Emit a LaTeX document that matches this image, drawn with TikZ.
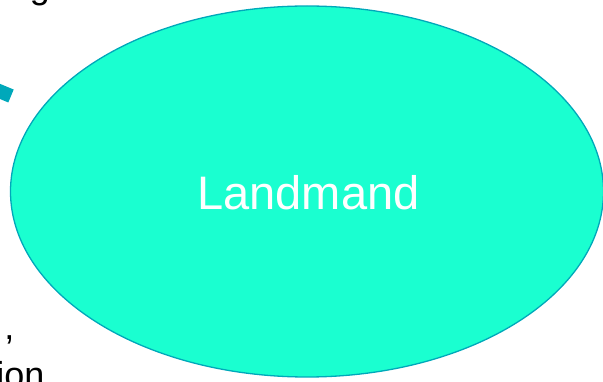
\documentclass[tikz,border=0pt]{standalone}
\usepackage{fontspec}
\setmainfont{Liberation Sans}
\usetikzlibrary{shapes.geometric}
\definecolor{aquafill}{RGB}{26,255,208}
\definecolor{tealline}{RGB}{0,168,186}
\begin{document}
\begin{tikzpicture}[x=1pt,y=-1pt,
  txt/.style={inner sep=0pt,font=\fontsize{36}{40}\selectfont,text=black}]
\useasboundingbox (0,0) rectangle (603,382);
\clip (0,0) rectangle (603,382);
\draw[tealline,line width=14pt,line cap=butt] (-30,79) -- (11,96);
\node[draw=tealline,fill=aquafill,line width=1.3pt,ellipse,minimum width=593pt,minimum height=371pt,inner sep=0pt] (e) at (307,191.5) {};
\path (e.center) ++(1.5,18.5) node[inner sep=0pt,anchor=base,text=white,font=\fontsize{47}{52}\selectfont] (lbl) {Landmand};
\node[txt,anchor=base] (g) at (40,-1.5) {g};
\node[txt,anchor=base east] (comma) at (14.5,340) {,};
\node[txt,anchor=base east] (ion) at (44.5,388) {ion};
\end{tikzpicture}
\end{document}
